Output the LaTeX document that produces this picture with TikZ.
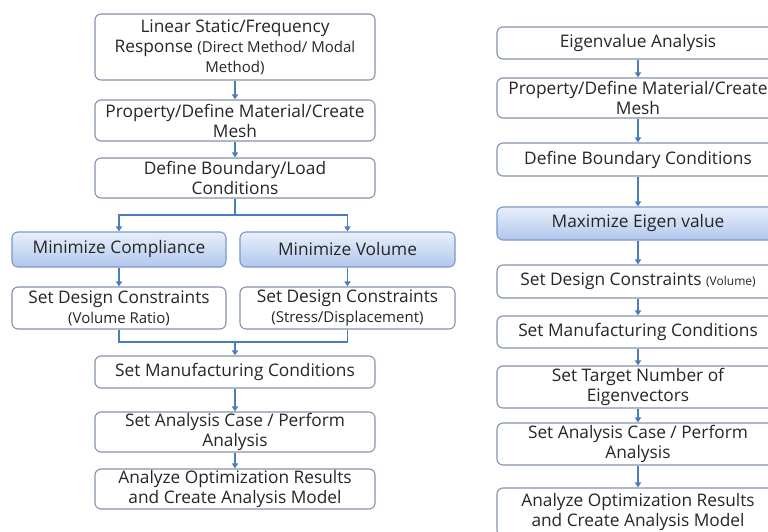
\documentclass[tikz,border=0pt]{standalone}
\usepackage{fontspec}
\setmainfont{Open Sans}
\usetikzlibrary{arrows.meta}
\definecolor{boxline}{HTML}{8593AA}
\definecolor{conn}{HTML}{4A7CBF}
\definecolor{bluetop}{HTML}{E8EFFB}
\definecolor{bluebot}{HTML}{B2C7EC}
\definecolor{blueline}{HTML}{7B98C8}
\definecolor{txt}{HTML}{262626}
\tikzset{
  box/.style={draw=boxline, line width=1.1pt, rounded corners=6pt, fill=white,
    inner sep=0pt, align=center, text=txt, font=\fontsize{17.3}{20}\selectfont},
  bluebox/.style={box, draw=blueline, top color=bluetop, bottom color=bluebot},
  conline/.style={draw=conn, line width=1.8pt},
  conarrow/.style={conline, -{Triangle[length=5pt,width=6pt]}},
}
\newcommand{\sm}[1]{{\fontsize{15}{20}\selectfont #1}}
\begin{document}
\begin{tikzpicture}[x=1pt,y=-1pt]
\useasboundingbox (0,0) rectangle (768,532);
\clip (0,0) rectangle (768,532);
\fill[white] (0,0) rectangle (768,532);
% left column
\node[box, minimum width=280pt, minimum height=66pt] (L1) at (235,47)
  {Linear Static/Frequency\\Response \sm{(Direct Method/ Modal}\\\sm{Method)}};
\node[box, minimum width=280pt, minimum height=41pt] (L2) at (235,120.5)
  {Property/Define Material/Create\\Mesh};
\node[box, minimum width=280pt, minimum height=40pt] (L3) at (235,178)
  {Define Boundary/Load\\Conditions};
\node[bluebox, minimum width=214pt, minimum height=35pt] (LMC) at (119,249.5)
  {Minimize Compliance};
\node[bluebox, minimum width=215pt, minimum height=35pt] (LMV) at (347.5,249.5)
  {Minimize Volume};
\node[box, minimum width=214pt, minimum height=42pt] (LS1) at (119,308)
  {Set Design Constraints\\\sm{(Volume Ratio)}};
\node[box, minimum width=215pt, minimum height=42pt] (LS2) at (347.5,308)
  {Set Design Constraints\\\sm{(Stress/Displacement)}};
\node[box, minimum width=280pt, minimum height=32pt] (LM) at (235,372)
  {Set Manufacturing Conditions};
\node[box, minimum width=280pt, minimum height=40pt] (LA) at (235,432)
  {Set Analysis Case / Perform\\Analysis};
\node[box, minimum width=280pt, minimum height=40pt] (LR) at (235,489)
  {Analyze Optimization Results\\and Create Analysis Model};
\coordinate (sp) at (235,215);
\coordinate (mj) at (235,342);
\draw[conarrow] (L1) -- (L2);
\draw[conarrow] (L2) -- (L3);
\draw[conline] (L3.south) -- (sp);
\draw[conarrow] (sp) -| (LMC.north);
\draw[conarrow] (sp) -| (LMV.north);
\draw[conarrow] (LMC) -- (LS1);
\draw[conarrow] (LMV) -- (LS2);
\draw[conline] (LS1.south) |- (mj);
\draw[conline] (LS2.south) |- (mj);
\draw[conarrow] (mj) -- (LM.north);
\draw[conarrow] (LM) -- (LA);
\draw[conarrow] (LA) -- (LR);
% right column
\node[box, minimum width=282pt, minimum height=32pt] (R1) at (638,43)
  {Eigenvalue Analysis};
\node[box, minimum width=282pt, minimum height=40pt] (R2) at (638,98)
  {Property/Define Material/Create\\Mesh};
\node[box, minimum width=282pt, minimum height=33pt] (R3) at (638,159.5)
  {Define Boundary Conditions};
\node[bluebox, minimum width=282pt, minimum height=33pt] (R4) at (638,223.5)
  {Maximize Eigen value};
\node[box, minimum width=282pt, minimum height=33pt] (R5) at (638,281.5)
  {Set Design Constraints {\fontsize{12}{20}\selectfont(Volume)}};
\node[box, minimum width=282pt, minimum height=32pt] (R6) at (638,332)
  {Set Manufacturing Conditions};
\node[box, minimum width=282pt, minimum height=42pt] (R7) at (638,387)
  {Set Target Number of\\Eigenvectors};
\node[box, minimum width=282pt, minimum height=42pt] (R8) at (638,444)
  {Set Analysis Case / Perform\\Analysis};
\node[box, minimum width=282pt, minimum height=48pt] (R9) at (638,512)
  {Analyze Optimization Results\\and Create Analysis Model};
\draw[conarrow] (R1) -- (R2);
\draw[conarrow] (R2) -- (R3);
\draw[conarrow] (R3) -- (R4);
\draw[conarrow] (R4) -- (R5);
\draw[conarrow] (R5) -- (R6);
\draw[conarrow] (R6) -- (R7);
\draw[conarrow] (R7) -- (R8);
\draw[conarrow] (R8) -- (R9);
\end{tikzpicture}
\end{document}
